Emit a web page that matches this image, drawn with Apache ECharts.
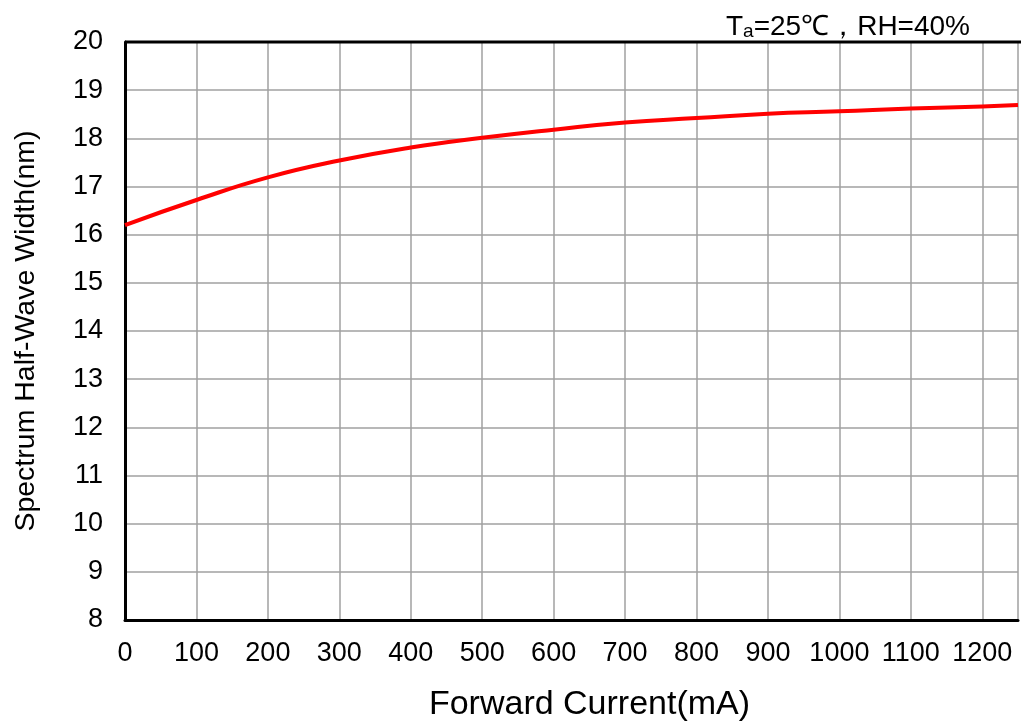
<!DOCTYPE html>
<html>
<head>
<meta charset="utf-8">
<script src="https://cdn.jsdelivr.net/npm/echarts@6/dist/echarts.min.js"></script>
<style>html,body{margin:0;padding:0;background:#fff}#c{width:1021px;height:727px}</style>
</head>
<body>
<div id="c"></div>
<script>
const currents = [0, 100, 200, 300, 400, 500, 600, 700, 800, 900, 1000, 1100, 1200, 1250];
const widths = [16.2, 16.72, 17.19, 17.54, 17.81, 18.01, 18.18, 18.33, 18.42, 18.51, 18.56, 18.62, 18.66, 18.69];
const xTicks = [0, 100, 200, 300, 400, 500, 600, 700, 800, 900, 1000, 1100, 1200];
const yTicks = [8, 9, 10, 11, 12, 13, 14, 15, 16, 17, 18, 19, 20];

const font = '"Liberation Sans", Arial, sans-serif';
const chart = echarts.init(document.getElementById('c'));
chart.setOption({
  animation: false,
  backgroundColor: '#fff',
  title: {
    text: '{t|T}{s|a}{t|=25℃，RH=40%}',
    right: 46, top: 2,
    textStyle: {
      fontWeight: 'normal',
      rich: {
        t: {fontFamily: font, fontSize: 28, fontWeight: 'normal', color: '#000', verticalAlign: 'bottom', lineHeight: 34},
        s: {fontFamily: font, fontSize: 19, fontWeight: 'normal', color: '#000', verticalAlign: 'bottom', lineHeight: 28, padding: [6, 0, 0, 0]}
      }
    }
  },
  grid: {left: 125, right: 0, top: 42, bottom: 104},
  xAxis: {
    type: 'value', min: 0, max: 1250, interval: 100,
    name: 'Forward Current(mA)', nameLocation: 'middle', nameGap: 68,
    nameTextStyle: {fontFamily: font, fontSize: 34, color: '#000', padding: [0, 0, 0, 36]},
    axisLine: {show: true, lineStyle: {color: '#000', width: 3}},
    axisTick: {show: false},
    axisLabel: {fontFamily: font, fontSize: 27, color: '#000', margin: 20,
      formatter: v => xTicks.includes(v) ? String(v) : ''},
    splitLine: {show: true, lineStyle: {color: '#a0a0a0', width: 1.5}}
  },
  yAxis: {
    type: 'value', min: 8, max: 20, interval: 1,
    name: 'Spectrum Half-Wave Width(nm)', nameLocation: 'middle', nameGap: 84,
    nameTextStyle: {fontFamily: font, fontSize: 28.5, color: '#000'},
    axisLine: {show: true, lineStyle: {color: '#000', width: 3}},
    axisTick: {show: false},
    axisLabel: {fontFamily: font, fontSize: 27, color: '#000', margin: 22,
      formatter: v => yTicks.includes(v) ? String(v) : ''},
    splitLine: {show: true, lineStyle: {color: '#a0a0a0', width: 1.5}}
  },
  graphic: [{
    type: 'line', shape: {x1: 125, y1: 42, x2: 1021, y2: 42},
    style: {stroke: '#000', lineWidth: 3}, z: 10
  }],
  series: [{
    type: 'line', smooth: true, symbol: 'none',
    data: currents.map((c, i) => [c, widths[i]]),
    lineStyle: {color: '#ff0000', width: 4}
  }]
});
</script>
</body>
</html>
